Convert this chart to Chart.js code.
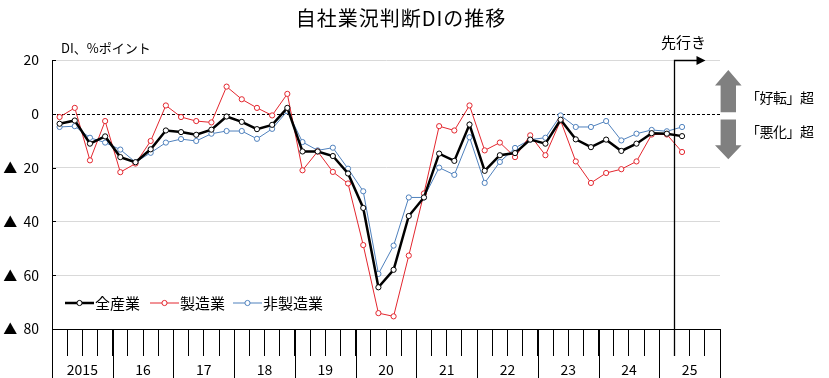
<!DOCTYPE html>
<html><head><meta charset="utf-8">
<script src="https://cdn.jsdelivr.net/npm/chart.js@4.4.1/dist/chart.umd.min.js"></script>
<style>
html,body{margin:0;padding:0;background:#fff;}
#wrap{position:relative;width:829px;height:378px;overflow:hidden;font-family:"Noto Sans CJK JP",sans-serif;color:#000;background:#fff;}
canvas{position:absolute;left:0;top:0;}
.t{position:absolute;white-space:nowrap;}
</style></head><body>
<div id="wrap">
<canvas id="c" width="829" height="378"></canvas>
<div class="t" style="left:401px;top:8px;font-size:20px;line-height:20px;letter-spacing:1px;transform:translateX(-50%)">自社業況判断DIの推移</div>
<div class="t" style="left:61px;top:41px;font-size:13px;line-height:14px;">DI、%ポイント</div>
<div class="t" style="left:661px;top:34px;font-size:15px;line-height:16px;">先行き</div>
<div class="t" style="left:746px;top:89px;font-size:14px;line-height:16px;letter-spacing:-0.5px;">「好転」超</div>
<div class="t" style="left:746px;top:123px;font-size:14px;line-height:16px;letter-spacing:-0.5px;">「悪化」超</div>
<div id="legend"></div>
</div>
<script>
// ---- data ----
const yearLabels = ['2015','16','17','18','19','20','21','22','23','24','25'];
const categories = [];
for (let yy = 2015; yy <= 2025; yy++) for (let q = 1; q <= 4; q++) categories.push(yy + 'Q' + q);
const seriesNames = ['全産業', '製造業', '非製造業'];
const allIndustries = [-3.7,-2.5,-11.1,-8.4,-16.1,-18.0,-13.2,-6.2,-6.8,-7.8,-5.9,-1.0,
  -3.0,-5.7,-4.1,2.2,-14.0,-14.0,-15.7,-22.2,-35.0,-64.5,-58.0,-38.0,
  -31.1,-14.8,-17.5,-4.0,-21.2,-15.4,-14.6,-9.6,-11.1,-2.2,-9.5,-12.4,
  -9.6,-13.8,-11.1,-7.2,-7.4,-8.3];
const manufacturing = [-1.2,2.2,-17.3,-2.7,-21.7,-18.5,-10.1,3.1,-1.2,-2.7,-3.2,10.1,
  5.4,2.2,-0.6,7.4,-21.0,-14.0,-21.6,-25.9,-48.8,-74.1,-75.3,-52.7,
  -29.6,-4.6,-6.2,3.1,-13.6,-10.7,-16.1,-8.0,-15.4,-2.5,-17.7,-25.7,
  -22.0,-20.6,-17.7,-7.7,-7.7,-14.2];
const nonManufacturing = [-4.9,-4.6,-8.9,-10.7,-13.3,-18.0,-14.5,-10.7,-9.4,-10.1,-7.4,-6.4,
  -6.4,-9.3,-5.6,1.0,-10.5,-13.6,-12.6,-20.4,-28.8,-59.5,-49.0,-31.1,
  -31.1,-20.0,-22.7,-8.7,-25.7,-17.9,-12.7,-9.6,-8.9,-0.6,-4.9,-4.9,
  -2.7,-9.9,-7.4,-6.0,-6.5,-4.9];
const yTicks = [20, 0, -20, -40, -60, -80];
const forecastStartIndex = 41; // first forecast quarter

const toPts = arr => arr.map((v, i) => ({x: i, y: v}));
const nCat = categories.length;

const styles = [
  {color:'#000000', width:2.5},
  {color:'#e3262e', width:1},
  {color:'#4f81bd', width:1}
];
const values = [allIndustries, manufacturing, nonManufacturing];

const datasets = values.map((arr, k) => ({
  label: seriesNames[k],
  data: toPts(arr),
  borderColor: styles[k].color,
  borderWidth: styles[k].width,
  pointRadius: 2.6,
  pointBorderWidth: 1,
  pointBorderColor: styles[k].color,
  pointBackgroundColor: '#ffffff',
  tension: 0,
  fill: false
}));

const deco = {
  id: 'deco',
  beforeDatasetsDraw(chart) {
    const {ctx, chartArea: a, scales: {x, y}} = chart;
    ctx.save();
    ctx.strokeStyle = '#000'; ctx.lineWidth = 1;
    const y0 = Math.round(y.getPixelForValue(0)) + 0.5;
    ctx.setLineDash([3, 2]);
    ctx.beginPath(); ctx.moveTo(a.left, y0); ctx.lineTo(a.right, y0); ctx.stroke();
    ctx.setLineDash([]);
    y.ticks.forEach(t => {
      const py = Math.round(y.getPixelForValue(t.value)) + 0.5;
      ctx.beginPath(); ctx.moveTo(a.left, py); ctx.lineTo(a.left + 4, py); ctx.stroke();
    });
    ctx.restore();
  },
  afterDraw(chart) {
    const {ctx, chartArea: a, scales: {x, y}} = chart;
    ctx.save();
    ctx.strokeStyle = '#000'; ctx.fillStyle = '#000'; ctx.lineWidth = 1;
    // long year-boundary ticks
    for (let k = 0; k <= yearLabels.length; k++) {
      const px = Math.round(x.getPixelForValue(4 * k - 0.5)) + 0.5;
      ctx.beginPath(); ctx.moveTo(px, a.bottom); ctx.lineTo(px, chart.height); ctx.stroke();
    }
    // forecast divider with arrow
    const fx = Math.round(x.getPixelForValue(forecastStartIndex - 0.5)) + 0.5;
    const top = Math.round(y.getPixelForValue(y.max)) + 0.5;
    ctx.lineWidth = 1.3;
    ctx.beginPath(); ctx.moveTo(fx, a.bottom + 27); ctx.lineTo(fx, top); ctx.lineTo(fx + 23, top); ctx.stroke();
    ctx.beginPath(); ctx.moveTo(fx + 22, top - 4.5); ctx.lineTo(fx + 31, top); ctx.lineTo(fx + 22, top + 4.5); ctx.closePath(); ctx.fill();
    // grey arrows
    const cx = 728.3;
    ctx.fillStyle = '#808080';
    const yp = v => y.getPixelForValue(v);
    ctx.beginPath();
    ctx.moveTo(cx, yp(16.3)); ctx.lineTo(cx + 13.3, yp(10.5)); ctx.lineTo(cx + 7.7, yp(10.5));
    ctx.lineTo(cx + 7.7, yp(0.6)); ctx.lineTo(cx - 7.7, yp(0.6)); ctx.lineTo(cx - 7.7, yp(10.5));
    ctx.lineTo(cx - 13.3, yp(10.5)); ctx.closePath(); ctx.fill();
    ctx.beginPath();
    ctx.moveTo(cx, yp(-16.9)); ctx.lineTo(cx + 13.3, yp(-11.7)); ctx.lineTo(cx + 7.7, yp(-11.7));
    ctx.lineTo(cx + 7.7, yp(-2.1)); ctx.lineTo(cx - 7.7, yp(-2.1)); ctx.lineTo(cx - 7.7, yp(-11.7));
    ctx.lineTo(cx - 13.3, yp(-11.7)); ctx.closePath(); ctx.fill();
    ctx.restore();
  }
};

new Chart(document.getElementById('c'), {
  type: 'line',
  data: {datasets},
  options: {
    responsive: false,
    animation: false,
    devicePixelRatio: 1,
    layout: {padding: {top: 60, right: 109, left: 0, bottom: 0}},
    plugins: {legend: {display: false}, tooltip: {enabled: false}, title: {display: false}},
    events: [],
    scales: {
      x: {
        type: 'linear',
        min: -0.5, max: nCat - 0.5,
        afterBuildTicks: s => { const t = []; for (let i = 0; i <= nCat; i++) t.push({value: i - 0.5}); s.ticks = t; },
        afterFit: s => { s.height = 49; },
        ticks: {
          autoSkip: false, maxRotation: 0, padding: 5, color: '#000',
          font: {family: 'Noto Sans CJK JP', size: 14},
          callback: (v, i) => ((i - 2) % 4 === 0 ? (yearLabels[(i - 2) / 4] || '') : '')
        },
        grid: {drawOnChartArea: false, drawTicks: true, tickLength: 27, color: '#000', tickColor: '#000', lineWidth: 1},
        border: {display: true, color: '#000', width: 1}
      },
      y: {
        type: 'linear',
        min: -80, max: 20,
        afterBuildTicks: s => { s.ticks = yTicks.map(v => ({value: v})); },
        afterFit: s => { s.width = 52; },
        ticks: {
          padding: 13, color: '#000',
          font: {family: 'Noto Sans CJK JP', size: 14},
          callback: v => (v < 0 ? '▲  ' + (-v) : String(v))
        },
        grid: {
          drawTicks: false,
          color: c => (c.tick && c.tick.value === 0 ? 'rgba(0,0,0,0)' : (c.tick && c.tick.value === -80 ? '#000' : '#d9d9d9')),
          lineWidth: 1
        },
        border: {display: true, color: '#000', width: 1}
      }
    }
  },
  plugins: [deco]
});

// legend (HTML, built from the datasets)
const legendPos = [[65, 95], [150, 180], [233, 263]];
const lg = document.getElementById('legend');
datasets.forEach((d, k) => {
  const [lx, tx] = legendPos[k];
  const svg = `<svg class="t" style="left:${lx}px;top:298px" width="29" height="10"><line x1="0" y1="5" x2="29" y2="5" stroke="${d.borderColor}" stroke-width="${d.borderWidth}"/><circle cx="14.5" cy="5" r="2.6" fill="#fff" stroke="${d.borderColor}" stroke-width="1"/></svg>`;
  lg.insertAdjacentHTML('beforeend', svg + `<div class="t" style="left:${tx}px;top:294px;font-size:15px;line-height:18px;">${d.label}</div>`);
});
</script>
</body></html>
